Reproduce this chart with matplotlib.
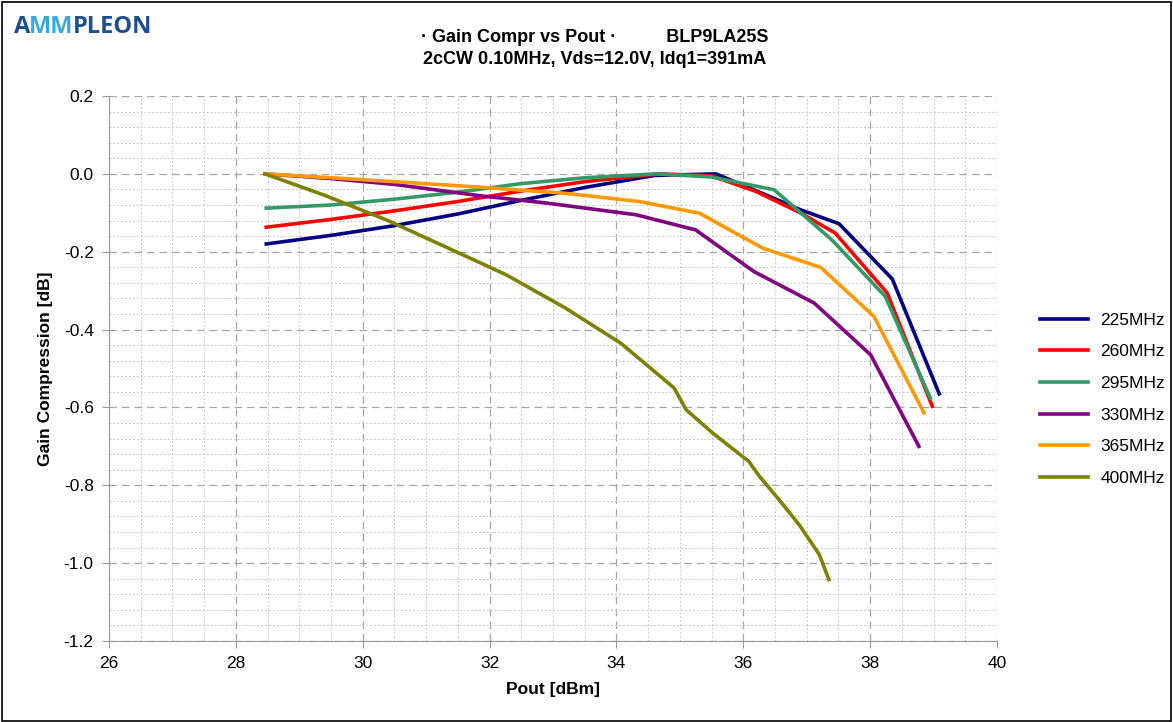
import matplotlib
matplotlib.use("Agg")
import matplotlib.pyplot as plt
from matplotlib.ticker import MultipleLocator
from matplotlib.patches import Rectangle

plt.rcParams['font.family'] = ['Liberation Sans', 'DejaVu Sans']

# Pout [dBm] and gain compression [dB]
pout_225 = [28.48, 29.5, 30.5, 31.5, 32.5, 33.5, 34.6, 35.57, 36.3, 36.9, 37.51, 38.35, 39.09]
gc_225 = [-0.180, -0.158, -0.133, -0.103, -0.068, -0.035, -0.004, 0.0, -0.05, -0.092, -0.128, -0.270, -0.565]

pout_260 = [28.48, 29.5, 30.5, 31.5, 32.5, 33.5, 34.68, 35.5, 36.2, 36.9, 37.45, 38.27, 38.98]
gc_260 = [-0.137, -0.117, -0.095, -0.071, -0.044, -0.020, 0.0, -0.005, -0.045, -0.100, -0.152, -0.306, -0.597]

pout_295 = [28.48, 29.5, 30.5, 31.5, 32.5, 33.5, 34.62, 35.5, 36.49, 37.4, 38.24, 38.95]
gc_295 = [-0.088, -0.080, -0.065, -0.047, -0.025, -0.010, 0.0, -0.008, -0.041, -0.170, -0.315, -0.576]

pout_330 = [28.46, 29.5, 30.5, 31.84, 32.9, 34.31, 35.25, 36.17, 37.12, 38.01, 38.77]
gc_330 = [0.0, -0.012, -0.027, -0.056, -0.075, -0.105, -0.144, -0.251, -0.332, -0.465, -0.700]

pout_365 = [28.46, 29.5, 30.5, 31.84, 33.2, 34.36, 35.31, 36.31, 37.22, 38.06, 38.85]
gc_365 = [0.0, -0.010, -0.020, -0.034, -0.050, -0.071, -0.101, -0.191, -0.240, -0.366, -0.614]

pout_400 = [28.46, 29.4, 30.4, 31.3, 32.26, 33.2, 34.07, 34.91, 35.10, 35.52, 36.09, 36.25, 36.57, 36.88, 37.2, 37.35]
gc_400 = [0.0, -0.055, -0.120, -0.187, -0.259, -0.345, -0.435, -0.550, -0.606, -0.666, -0.739, -0.776, -0.838, -0.901, -0.978, -1.042]

labels = ['225MHz', '260MHz', '295MHz', '330MHz', '365MHz', '400MHz']
colors = ['#000080', '#FF0000', '#339966', '#800080', '#FF9900', '#808000']
series = [(pout_225, gc_225), (pout_260, gc_260), (pout_295, gc_295),
          (pout_330, gc_330), (pout_365, gc_365), (pout_400, gc_400)]

fig = plt.figure(figsize=(11.73, 7.22), dpi=100)
fig.patches.append(Rectangle((0.0015, 0.002), 0.997, 0.995, transform=fig.transFigure,
                             fill=False, edgecolor='black', linewidth=1.2))

ax = fig.add_axes([0.0929, 0.1122, 0.757, 0.7548])
for (x, y), lab, c in zip(series, labels, colors):
    ax.plot(x, y, color=c, linewidth=2.6, label=lab)

ax.set_xlim(26, 40)
ax.set_ylim(-1.2, 0.2)
ax.xaxis.set_major_locator(MultipleLocator(2))
ax.xaxis.set_minor_locator(MultipleLocator(0.5))
ax.yaxis.set_major_locator(MultipleLocator(0.2))
ax.yaxis.set_minor_locator(MultipleLocator(0.04))
ax.yaxis.set_major_formatter(plt.FuncFormatter(lambda v, p: f"{v:.1f}"))
ax.grid(which='major', color='#a6a6a6', linestyle=(0, (6, 4)), linewidth=0.9)
ax.grid(which='minor', color='#c8c8c8', linestyle=(0, (2, 2)), linewidth=0.7)
ax.set_axisbelow(True)
for s in ['top', 'right']:
    ax.spines[s].set_visible(False)
for s in ['left', 'bottom']:
    ax.spines[s].set_color('#999999')
ax.tick_params(which='major', length=5, color='#999999', labelsize=12.5, pad=6)
ax.tick_params(which='minor', length=0)

ax.set_xlabel('Pout [dBm]', fontsize=12.5, fontweight='bold', labelpad=8)
ax.set_ylabel('Gain Compression [dB]', fontsize=12.5, fontweight='bold', labelpad=8)

fig.legend(loc='center left', bbox_to_anchor=(0.873, 0.447), frameon=False,
           fontsize=12.5, handlelength=2.8, labelspacing=0.95, handletextpad=0.7)

fig.text(0.507, 0.948, '\u00b7 Gain Compr vs Pout \u00b7          BLP9LA25S',
         ha='center', va='center', fontsize=13, fontweight='bold')
fig.text(0.507, 0.917, '2cCW 0.10MHz, Vds=12.0V, Idq1=391mA',
         ha='center', va='center', fontsize=13, fontweight='bold')

# logo: place pieces one after the other
fig.canvas.draw()
renderer = fig.canvas.get_renderer()
x0 = 14
for part, col in [('A', '#1f4e8c'), ('MM', '#3aa8dc'), ('PLEON', '#1f4e8c')]:
    t = fig.text(x0 / 1173, 0.963, part, color=col, fontsize=17, fontweight='bold',
                 va='center', ha='left', family='Open Sans')
    bb = t.get_window_extent(renderer)
    x0 += bb.width - 1

fig.savefig('out.png', dpi=100)
